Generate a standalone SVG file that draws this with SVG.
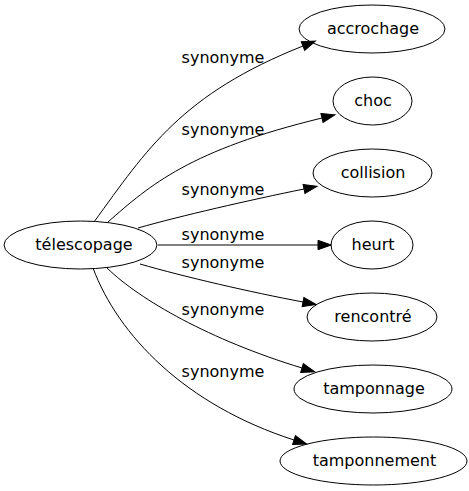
<svg xmlns="http://www.w3.org/2000/svg" width="469" height="491" viewBox="0 0 469 491">
<style>
  .node ellipse { fill: none; stroke: #000; stroke-width: 1; }
  text { font-family: "DejaVu Sans", sans-serif; font-size: 16px; fill: #000; text-anchor: middle; }
  .edge path { fill: none; stroke: #000; stroke-width: 1; }
</style>
<defs>
  <marker id="arrow" markerUnits="userSpaceOnUse" markerWidth="15" markerHeight="11" refX="0" refY="4.67" orient="auto" overflow="visible">
    <path d="M0,0 L13.3,4.67 L0,9.33 Z" fill="#000" stroke="#000" stroke-width="1"/>
  </marker>
</defs>
<rect width="469" height="491" fill="#fff"/>
<g id="edges" class="edge">
  <path d="M94,222 C147,149 182,94 303,46" marker-end="url(#arrow)"/>
  <path d="M108,222 C150,185 190,150 322,118" marker-end="url(#arrow)"/>
  <path d="M138,228 C180,216 250,200 304,189" marker-end="url(#arrow)"/>
  <path d="M158,245 L318,245" marker-end="url(#arrow)"/>
  <path d="M140,264 C185,277 250,292 303,302" marker-end="url(#arrow)"/>
  <path d="M107,268 C140,300 210,340 302,368" marker-end="url(#arrow)"/>
  <path d="M93,268 C118,335 185,405 294,440" marker-end="url(#arrow)"/>
  <text x="223" y="63">synonyme</text>
  <text x="223" y="135">synonyme</text>
  <text x="223" y="195">synonyme</text>
  <text x="223" y="240">synonyme</text>
  <text x="223" y="268">synonyme</text>
  <text x="223" y="315">synonyme</text>
  <text x="223" y="377">synonyme</text>
</g>
<g id="node-telescopage" class="node">
  <ellipse cx="80.5" cy="245" rx="76.5" ry="24"/>
  <text x="84" y="250">télescopage</text>
</g>
<g id="node-accrochage" class="node">
  <ellipse cx="372" cy="29" rx="73" ry="24"/>
  <text x="373" y="34">accrochage</text>
</g>
<g id="node-choc" class="node">
  <ellipse cx="372.5" cy="101" rx="39.5" ry="24"/>
  <text x="373" y="106">choc</text>
</g>
<g id="node-collision" class="node">
  <ellipse cx="372.5" cy="173" rx="59.5" ry="24"/>
  <text x="373" y="178">collision</text>
</g>
<g id="node-heurt" class="node">
  <ellipse cx="372" cy="245" rx="41" ry="24"/>
  <text x="373" y="250">heurt</text>
</g>
<g id="node-rencontre" class="node">
  <ellipse cx="372" cy="317" rx="65" ry="24"/>
  <text x="373" y="322">rencontré</text>
</g>
<g id="node-tamponnage" class="node">
  <ellipse cx="373" cy="389" rx="79" ry="24"/>
  <text x="374" y="394">tamponnage</text>
</g>
<g id="node-tamponnement" class="node">
  <ellipse cx="373.5" cy="461" rx="93.5" ry="24"/>
  <text x="374.5" y="466">tamponnement</text>
</g>
</svg>
